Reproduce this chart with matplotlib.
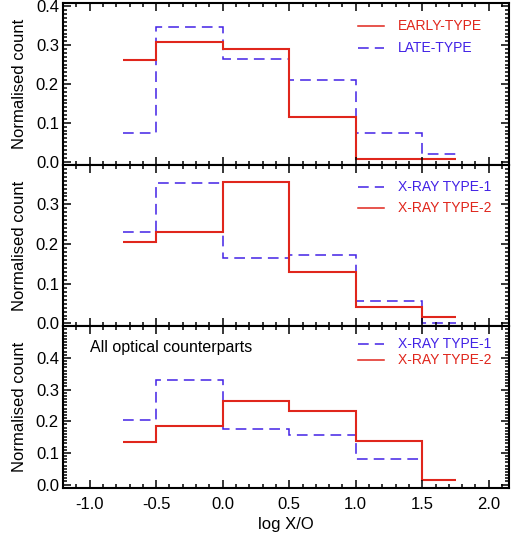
import numpy as np
import matplotlib
matplotlib.use("Agg")
import matplotlib.pyplot as plt
from matplotlib.ticker import MultipleLocator

plt.rcParams['font.family'] = ['Liberation Sans', 'DejaVu Sans']
plt.rcParams['axes.unicode_minus'] = False

# bin edges in log X/O
edges = [-0.75, -0.5, 0.0, 0.5, 1.0, 1.5, 1.75]

# top panel: optical morphology
early_type = [0.262, 0.308, 0.291, 0.114, 0.007, 0.007]
late_type = [0.075, 0.347, 0.265, 0.210, 0.075, 0.020]

# middle panel: split by X-ray type
mid_type1 = [0.231, 0.354, 0.165, 0.173, 0.057, 0.002]
mid_type2 = [0.206, 0.231, 0.356, 0.130, 0.042, 0.017]

# bottom panel: all optical counterparts
all_type1 = [0.203, 0.331, 0.176, 0.158, 0.081, 0.013]
all_type2 = [0.134, 0.186, 0.265, 0.233, 0.137, 0.016]

xticks = [-1.0, -0.5, 0.0, 0.5, 1.0, 1.5, 2.0]

RED = '#e0261c'
BLUE = '#4222e6'
DASH = (0, (7, 4))

fig = plt.figure(figsize=(5.17, 5.36), dpi=100)
gs = fig.add_gridspec(3, 1, left=0.122, right=0.984, top=0.994, bottom=0.090,
                      hspace=0)
axes = [fig.add_subplot(gs[i]) for i in range(3)]

ylims = [(-0.008, 0.408), (-0.007, 0.400), (-0.010, 0.500)]
yticks = [[0, 0.1, 0.2, 0.3, 0.4], [0, 0.1, 0.2, 0.3], [0, 0.1, 0.2, 0.3, 0.4]]


def legend_rows(ax, rows, y0, dy):
    for i, (col, ls, txt) in enumerate(rows):
        y = y0 - i * dy
        ax.plot([0.662, 0.72], [y, y], transform=ax.transAxes, color=col,
                ls=ls, lw=1.1)
        ax.text(0.752, y, txt, transform=ax.transAxes, color=col,
                fontsize=10, va='center', ha='left')


for i, ax in enumerate(axes):
    ax.set_xlim(-1.2, 2.15)
    ax.set_ylim(*ylims[i])
    ax.set_yticks(yticks[i])
    ax.set_yticklabels(['%.1f' % v for v in yticks[i]])
    ax.set_xticks(xticks)
    ax.set_xticklabels(['%.1f' % v for v in xticks])
    ax.xaxis.set_minor_locator(MultipleLocator(0.1))
    ax.yaxis.set_minor_locator(MultipleLocator(0.01))
    ax.tick_params(which='both', direction='in', top=True, right=True,
                   labelsize=12, width=1.1)
    ax.tick_params(which='major', length=6)
    ax.tick_params(which='minor', length=3)
    ax.tick_params(axis='x', pad=7)
    ax.tick_params(axis='y', pad=3)
    for s in ax.spines.values():
        s.set_linewidth(1.5)
    ax.set_ylabel('Normalised count', fontsize=12, labelpad=6)
    if i < 2:
        ax.tick_params(labelbottom=False)

ax = axes[0]
ax.stairs(late_type, edges, baseline=None, color=BLUE, ls=DASH, lw=1.1)
ax.stairs(early_type, edges, baseline=None, color=RED, lw=1.5)
legend_rows(ax, [(RED, '-', 'EARLY-TYPE'), (BLUE, DASH, 'LATE-TYPE')],
            0.86, 0.135)

ax = axes[1]
ax.stairs(mid_type1, edges, baseline=None, color=BLUE, ls=DASH, lw=1.1)
ax.stairs(mid_type2, edges, baseline=None, color=RED, lw=1.5)
legend_rows(ax, [(BLUE, DASH, 'X-RAY TYPE-1'), (RED, '-', 'X-RAY TYPE-2')],
            0.86, 0.13)

ax = axes[2]
ax.stairs(all_type1, edges, baseline=None, color=BLUE, ls=DASH, lw=1.1)
ax.stairs(all_type2, edges, baseline=None, color=RED, lw=1.5)
legend_rows(ax, [(BLUE, DASH, 'X-RAY TYPE-1'), (RED, '-', 'X-RAY TYPE-2')],
            0.89, 0.10)
ax.text(0.06, 0.87, 'All optical counterparts', transform=ax.transAxes,
        fontsize=11.5, va='center', ha='left')
ax.set_xlabel('log X/O', fontsize=12, labelpad=3)

fig.savefig('out.png', dpi=100)
